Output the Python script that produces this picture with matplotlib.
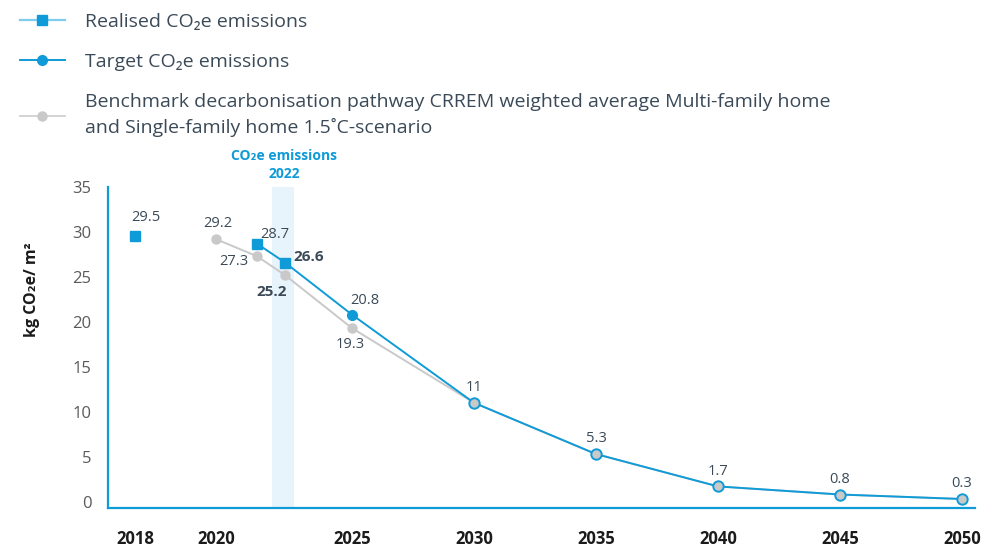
import numpy as np
import matplotlib
matplotlib.use("Agg")
import matplotlib.pyplot as plt
from matplotlib.lines import Line2D

plt.rcParams['font.family'] = ['Open Sans', 'DejaVu Sans']

# data
realised_years = [2018, 2021, 2022]
realised_vals = [29.5, 28.7, 26.6]
target_years = [2022, 2025, 2030, 2035, 2040, 2045, 2050]
target_vals = [26.6, 20.8, 11, 5.3, 1.7, 0.8, 0.3]
bench_years = [2020, 2021, 2022, 2025, 2030, 2035, 2040, 2045, 2050]
bench_vals = [29.2, 27.3, 25.2, 19.3, 11, 5.3, 1.7, 0.8, 0.3]
tick_years = [2018, 2020, 2025, 2030, 2035, 2040, 2045, 2050]

BLUE = '#0f9bd7'
LBLUE = '#7fcdee'
GREY = '#c9c9c9'
TXT = '#3b4a58'

# uneven year spacing used by the original chart
anchor_years = [2017, 2018, 2020, 2021, 2022, 2025, 2050, 2051]
anchor_pos = [108, 135, 216, 257, 285, 352, 962, 975]


def fwd(x):
    return np.interp(x, anchor_years, anchor_pos)


def inv(p):
    return np.interp(p, anchor_pos, anchor_years)


fig = plt.figure(figsize=(10.05, 5.5), dpi=100)
ax = fig.add_axes([108 / 1005, 1 - 508 / 550, (975 - 108) / 1005, (508 - 187) / 550])
ax.set_xscale('function', functions=(fwd, inv))
ax.set_xlim(2017, 2051)
ax.set_ylim(-0.7, 35)

ax.axvspan(2021.54, 2022.42, color='#e8f4fb', zorder=0, lw=0)
ax.text(2021.97, 1.02, 'CO₂e emissions\n2022', transform=ax.get_xaxis_transform(),
        ha='center', va='bottom', color=BLUE, fontsize=10, fontweight='bold',
        linespacing=1.3)

# benchmark
ax.plot(bench_years, bench_vals, color=GREY, lw=1.4, marker='o', ms=6.5,
        mfc=GREY, mec=GREY, zorder=2)
# target
ax.plot(target_years, target_vals, color=BLUE, lw=1.4, zorder=3)
ax.plot(target_years[1:2], target_vals[1:2], 'o', color=BLUE, ms=7, zorder=4)
ax.plot(target_years[2:], target_vals[2:], 'o', mfc=GREY, mec=BLUE, mew=1.4,
        ms=7.5, zorder=4)
# realised
ax.plot(realised_years[1:], realised_vals[1:], color=BLUE, lw=1.4, zorder=3)
ax.plot(realised_years, realised_vals, 's', color=BLUE, ms=7.5, zorder=5)


def label(txt, x, y, dx, dy, bold=False):
    ax.annotate(txt, (x, y), xytext=(dx, dy), textcoords='offset points',
                ha='center', va='center', color=TXT,
                fontsize=11 if bold else 10.5,
                fontweight='bold' if bold else 'normal')


label('29.5', 2018, 29.5, 8, 13.5)
label('29.2', 2020, 29.2, 1.5, 11)
label('28.7', 2021, 28.7, 13, 6.5)
label('27.3', 2021, 27.3, -17, -3.6)
label('26.6', 2022, 26.6, 17, 4.3, bold=True)
label('25.2', 2022, 25.2, -9.4, -12, bold=True)
label('20.8', 2025, 20.8, 9.4, 10)
label('19.3', 2025, 19.3, -1.4, -11.5)
for y, v in zip(target_years[2:], target_vals[2:]):
    label(f'{v:g}', y, v, 0, 11)

for s in ['top', 'right']:
    ax.spines[s].set_visible(False)
for s in ['left', 'bottom']:
    ax.spines[s].set_color(BLUE)
    ax.spines[s].set_linewidth(1.6)

ax.set_xticks(tick_years)
ax.set_xticklabels([str(t) for t in tick_years], fontsize=12, fontweight='bold', color='#1b1b1b')
ax.xaxis.set_minor_locator(matplotlib.ticker.NullLocator())
ax.set_yticks(range(0, 36, 5))
ax.set_yticklabels([str(t) for t in range(0, 36, 5)], fontsize=12, color='#5a5a5a')
ax.tick_params(length=0)
ax.tick_params(axis='x', pad=16)
ax.tick_params(axis='y', pad=12)
ax.set_ylabel('kg CO₂e/ m²', fontsize=11.5, fontweight='bold', color='#1b1b1b')
ax.yaxis.set_label_coords(-0.078, 0.68)

handles = [
    Line2D([], [], color=LBLUE, lw=1.6, marker='s', ms=7.5, mfc=BLUE, mec=BLUE),
    Line2D([], [], color=BLUE, lw=1.4, marker='o', ms=7, mfc=BLUE, mec=BLUE),
    Line2D([], [], color='#d4d4d4', lw=1.4, marker='o', ms=6.5, mfc=GREY, mec=GREY),
]
labels = ['Realised CO₂e emissions', 'Target CO₂e emissions',
          'Benchmark decarbonisation pathway CRREM weighted average Multi-family home\n'
          'and Single-family home 1.5˚C-scenario']
leg = fig.legend(handles, labels, loc='upper left', bbox_to_anchor=(0.012, 0.991),
                 frameon=False, fontsize=14, handlelength=2.3, handletextpad=1.03,
                 labelspacing=1.15, borderaxespad=0)
for t in leg.get_texts():
    t.set_color(TXT)
    t.set_linespacing(1.45)

fig.savefig('out.png', dpi=100)
